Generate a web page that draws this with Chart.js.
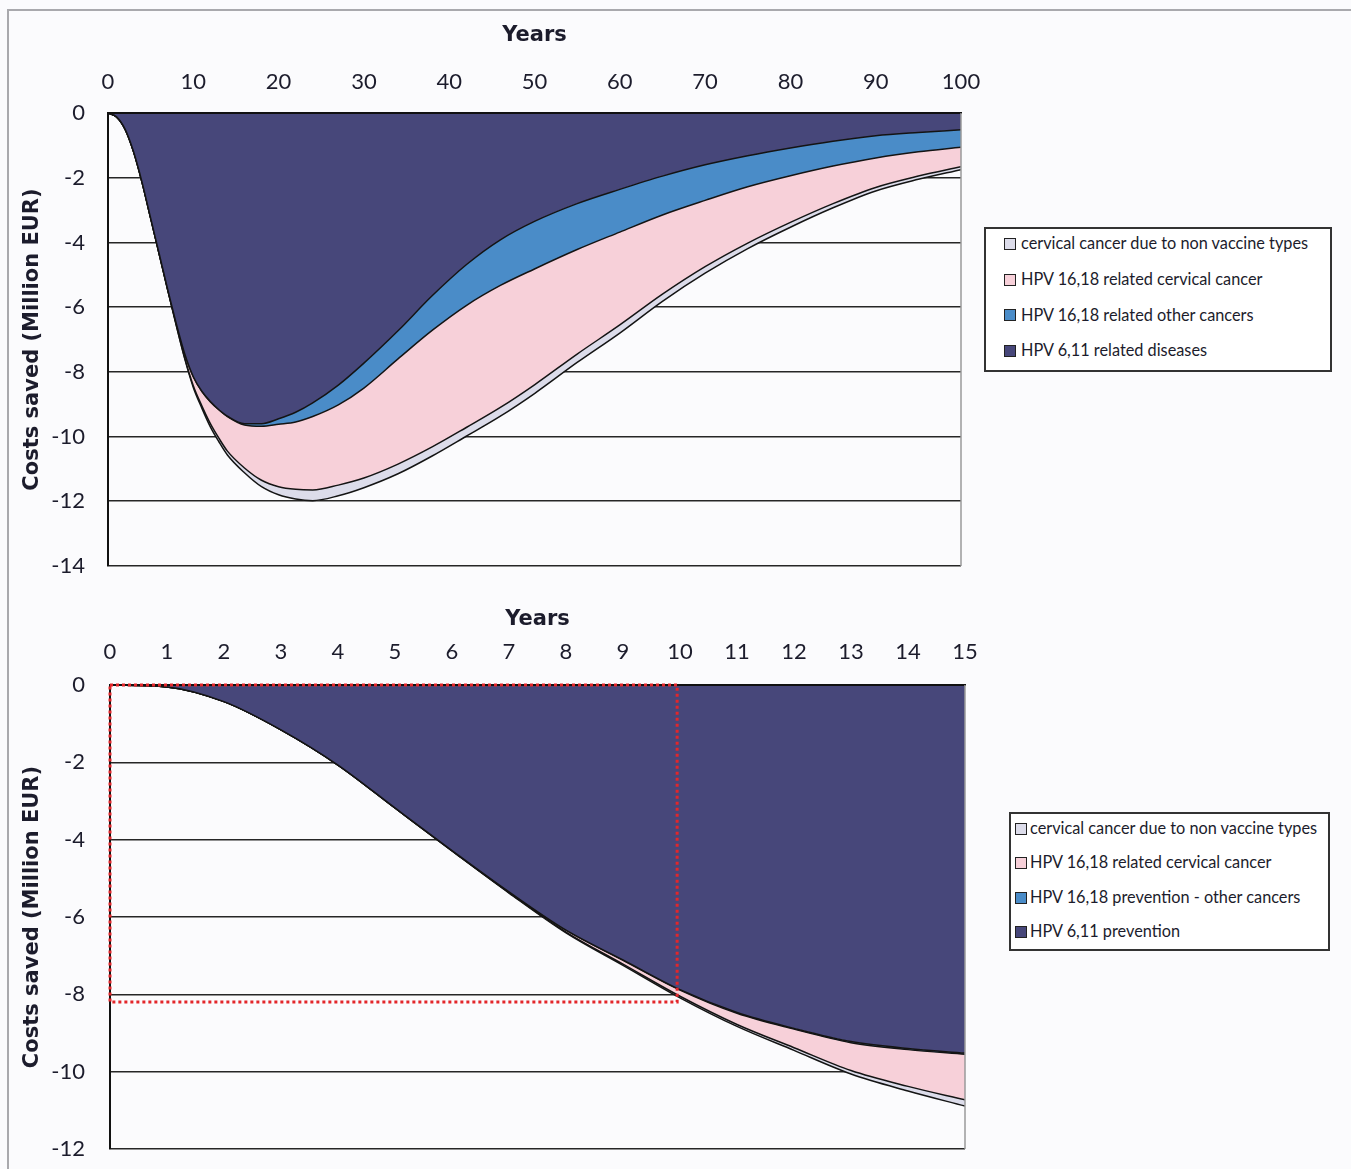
<!DOCTYPE html>
<html>
<head>
<meta charset="utf-8">
<title>HPV vaccination - costs saved</title>
<script src="https://cdn.jsdelivr.net/npm/chart.js@4.4.0/dist/chart.umd.min.js"></script>
<style>
  body { margin: 0; background: #fbfbfd; font-family: Lato, sans-serif; }
  #page { position: relative; width: 1351px; height: 1169px; overflow: hidden; }
  #frame { position: absolute; left: 7px; top: 9px; width: 1400px; height: 1200px; border-left: 2px solid #a9a9ad; border-top: 2px solid #a9a9ad; }
  canvas { position: absolute; left: 0; }
  #longChart { top: 0; }
  #shortChart { top: 584px; }
  .legend { position: absolute; box-sizing: border-box; background: #fff; border: 2px solid #333; color: #1c1c2c; font-size: 16.3px; }
  .legend .row { white-space: nowrap; }
  .legend .swatch { display: inline-block; box-sizing: border-box; width: 12px; height: 12px; border: 1.5px solid #222; vertical-align: middle; position: relative; top: -1px; }
  #longLegend { left: 984px; top: 227px; width: 348px; height: 145px; padding-left: 18px; }
  #longLegend .rows { margin-top: -4px; }
  #longLegend .row { height: 35.8px; line-height: 35.8px; }
  #longLegend .swatch { margin-right: 5px; }
  #shortLegend { left: 1009px; top: 812px; width: 321px; height: 139px; padding-left: 4px; }
  #shortLegend .rows { margin-top: -3px; }
  #shortLegend .row { height: 34.4px; line-height: 34.4px; }
  #shortLegend .swatch { margin-right: 3px; }
</style>
</head>
<body>
<div id="page">
  <div id="frame"></div>
  <canvas id="longChart" width="990" height="590"></canvas>
  <canvas id="shortChart" width="990" height="585"></canvas>
  <div id="longLegend" class="legend"><div class="rows"></div></div>
  <div id="shortLegend" class="legend"><div class="rows"></div></div>
</div>
<script>
// --- 100 year horizon (Million EUR saved, stacked downwards) ---
const longYears = [0, 1, 2, 3, 4, 5, 6, 7, 8, 9, 10, 11, 12, 13, 14, 16, 18, 20, 22, 24, 27, 30, 34, 38, 42, 46, 50, 55, 60, 65, 70, 75, 80, 85, 90, 95, 100];
const longHpv611 = [0, -0.12, -0.5, -1.2, -2.15, -3.25, -4.35, -5.45, -6.5, -7.45, -8.15, -8.6, -8.92, -9.17, -9.37,
    -9.6, -9.6, -9.45, -9.25, -8.96, -8.41, -7.73, -6.73, -5.65, -4.69, -3.92, -3.35, -2.8, -2.36, -1.95, -1.6, -1.32, -1.08, -0.87, -0.7, -0.6, -0.52];
const longOtherCancers = [0, 0, 0, 0, 0, 0, 0, 0, 0, 0, 0, 0, 0, 0, -0.01,
    -0.04, -0.08, -0.17, -0.3, -0.42, -0.61, -0.77, -0.87, -1.07, -1.26, -1.41, -1.47, -1.42, -1.32, -1.2, -1.1, -0.96, -0.86, -0.77, -0.69, -0.6, -0.54];
const longCervical1618 = [0, 0, 0, 0, 0, 0, -0.01, -0.02, -0.05, -0.12, -0.28, -0.45, -0.68, -0.88, -1.07,
    -1.33, -1.67, -1.93, -2.08, -2.27, -2.48, -2.78, -3.25, -3.6, -3.77, -3.77, -3.58, -3.23, -2.87, -2.45, -2.05, -1.74, -1.44, -1.16, -0.91, -0.75, -0.6];
const longNonVaccine = [0, 0, 0, 0, 0, 0, 0, 0, -0.01, -0.03, -0.05, -0.07, -0.1, -0.11, -0.12,
    -0.15, -0.2, -0.25, -0.3, -0.33, -0.33, -0.3, -0.3, -0.28, -0.27, -0.27, -0.27, -0.26, -0.25, -0.22, -0.2, -0.17, -0.15, -0.13, -0.11, -0.1, -0.09];
const longLabels = ['HPV 6,11 related diseases', 'HPV 16,18 related other cancers', 'HPV 16,18 related cervical cancer', 'cervical cancer due to non vaccine types'];

// --- first 15 years ---
const shortYears = [0, 1, 2, 3, 4, 5, 6, 7, 8, 9, 10, 11, 12, 13, 14, 15];
const shortHpv611 = [0, -0.05, -0.43, -1.16, -2.07, -3.18, -4.28, -5.35, -6.34, -7.11, -7.88, -8.47, -8.88, -9.22, -9.4, -9.52];
const shortOtherCancers = [0, 0, 0, 0, 0, 0, 0, 0, 0, -0.01, -0.01, -0.02, -0.02, -0.03, -0.03, -0.03];
const shortCervical1618 = [0, 0, 0, 0, 0, 0, -0.01, -0.02, -0.05, -0.1, -0.16, -0.29, -0.48, -0.72, -0.95, -1.18];
const shortNonVaccine = [0, 0, 0, 0, 0, 0, 0, -0.01, -0.02, -0.03, -0.04, -0.05, -0.07, -0.09, -0.12, -0.16];
const shortLabels = ['HPV 6,11 prevention', 'HPV 16,18 prevention - other cancers', 'HPV 16,18 related cervical cancer', 'cervical cancer due to non vaccine types'];

// highlighted window in the 15 year chart
const focusYears = [0, 9.95];
const focusCosts = [0, -8.2];

const fillColors = ['#47477a', '#4a8cc8', '#f7d0d9', '#dcdcea'];

Chart.defaults.font.family = 'Lato, sans-serif';
Chart.defaults.color = '#1c1c2c';
const titleFont = { family: '"DejaVu Sans", sans-serif', size: 21, weight: 'bold' };

// thin grey frame on the right side of the plot
const rightEdge = {
    id: 'rightEdge',
    afterDraw(chart) {
        const { ctx, chartArea: a } = chart;
        ctx.save();
        ctx.strokeStyle = '#9a9a9a';
        ctx.lineWidth = 1.5;
        ctx.beginPath();
        ctx.moveTo(a.right, a.top);
        ctx.lineTo(a.right, a.bottom);
        ctx.stroke();
        ctx.restore();
    }
};

// red dotted box over the first 10 years
const focusBox = {
    id: 'focusBox',
    afterDraw(chart) {
        const { ctx, scales: { x, y } } = chart;
        const x0 = x.getPixelForValue(focusYears[0]), x1 = x.getPixelForValue(focusYears[1]);
        const y0 = y.getPixelForValue(focusCosts[0]), y1 = y.getPixelForValue(focusCosts[1]);
        ctx.save();
        ctx.strokeStyle = '#e3262a';
        ctx.lineWidth = 3;
        ctx.setLineDash([3, 3]);
        ctx.strokeRect(x0, y0, x1 - x0, y1 - y0);
        ctx.restore();
    }
};

function makeDatasets(labels, series) {
    return series.map((values, i) => ({
        label: labels[i],
        data: values,
        fill: i === 0 ? 'origin' : '-1',
        backgroundColor: fillColors[i],
        borderColor: '#141414',
        borderWidth: 1.5,
        pointRadius: 0,
        cubicInterpolationMode: 'monotone'
    }));
}

function makeChart(id, years, datasets, cfg) {
    return new Chart(document.getElementById(id), {
        type: 'line',
        data: { labels: years, datasets: datasets },
        plugins: cfg.plugins,
        options: {
            responsive: false,
            animation: false,
            layout: { padding: cfg.padding },
            plugins: { legend: { display: false }, tooltip: { enabled: false } },
            scales: {
                x: {
                    type: 'linear',
                    position: 'top',
                    min: 0,
                    max: cfg.xMax,
                    afterFit: (s) => { s.height = cfg.xHeight; s.paddingLeft = 0; s.paddingRight = 0; },
                    grid: { display: false, drawTicks: false },
                    border: { display: true, color: '#111', width: 2, z: 1 },
                    ticks: { stepSize: cfg.xStep, padding: cfg.xPad, font: { size: 22 }, maxRotation: 0 },
                    title: { display: true, text: 'Years', font: titleFont, padding: { top: 23 } }
                },
                y: {
                    stacked: true,
                    min: cfg.yMin,
                    max: 0,
                    afterFit: (s) => { s.width = cfg.yWidth; s.paddingTop = 0; s.paddingBottom = 0; },
                    grid: { color: '#262626', lineWidth: 1.6, drawTicks: false },
                    border: { display: true, color: '#111', width: 2, z: 1 },
                    ticks: { stepSize: 2, padding: cfg.yPad, font: { size: 22 } },
                    title: { display: true, text: 'Costs saved (Million EUR)', font: titleFont, padding: { top: 20.4 } }
                }
            }
        }
    });
}

function buildLegend(id, labels) {
    const rows = document.querySelector('#' + id + ' .rows');
    for (let i = labels.length - 1; i >= 0; i--) {
        const row = document.createElement('div');
        row.className = 'row';
        const sw = document.createElement('span');
        sw.className = 'swatch';
        sw.style.background = fillColors[i];
        row.appendChild(sw);
        row.appendChild(document.createTextNode(labels[i]));
        rows.appendChild(row);
    }
}

makeChart('longChart', longYears,
    makeDatasets(longLabels, [longHpv611, longOtherCancers, longCervical1618, longNonVaccine]),
    { xMax: 100, xStep: 10, yMin: -14, padding: { top: 0, left: 0, right: 29, bottom: 24 },
      xHeight: 113, yWidth: 108, xPad: 17.8, yPad: 23, plugins: [rightEdge] });

makeChart('shortChart', shortYears,
    makeDatasets(shortLabels, [shortHpv611, shortOtherCancers, shortCervical1618, shortNonVaccine]),
    { xMax: 15, xStep: 1, yMin: -12, padding: { top: 0, left: 0, right: 25, bottom: 20 },
      xHeight: 101, yWidth: 110, xPad: 19.8, yPad: 25, plugins: [rightEdge, focusBox] });

buildLegend('longLegend', longLabels);
buildLegend('shortLegend', shortLabels);
</script>
</body>
</html>
